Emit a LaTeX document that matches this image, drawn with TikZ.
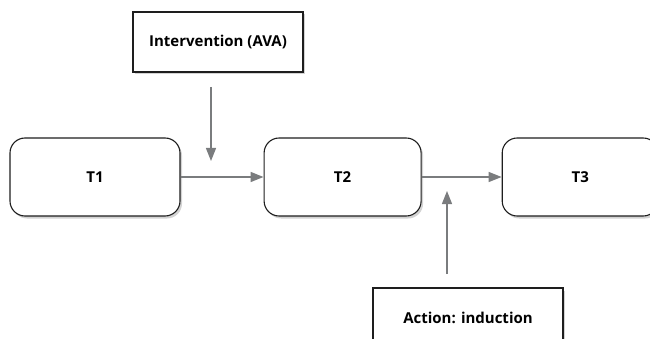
\documentclass[tikz,border=0pt]{standalone}
\usepackage{fontspec}
\setmainfont{Open Sans}
\usepackage{tikz}
\usetikzlibrary{positioning,shadows,arrows.meta}

\definecolor{arrgray}{HTML}{7A7C7E}
\definecolor{boxline}{HTML}{1E1E1E}

\tikzset{
  phase/.style={draw=boxline, line width=1.1pt, fill=white, rounded corners=15pt,
    minimum height=78pt, font=\bfseries\fontsize{15}{17}\selectfont,
    drop shadow={opacity=0.35, shadow xshift=2pt, shadow yshift=-2.5pt}},
  factor/.style={draw=boxline, line width=1.1pt, fill=white,
    minimum height=60pt, font=\bfseries\fontsize{15}{17}\selectfont,
    drop shadow={opacity=0.35, shadow xshift=2pt, shadow yshift=-2.5pt}},
  arr/.style={draw=arrgray, line width=1.3pt, -{Triangle[length=13pt,width=10pt]}}
}

\begin{document}
\begin{tikzpicture}[x=1pt, y=-1pt]
        \useasboundingbox (0,0) rectangle (650,339);
        \clip (0,0) rectangle (650,339);
        \node[phase, minimum width=170pt] (T1) at (95,177) {T1};
        \node[phase, minimum width=157pt] (T2) [right=83pt of T1] {T2};
        \node[phase, minimum width=156pt] (T3) [right=80pt of T2] {T3};
        \node[factor, minimum width=170pt] (ava) at (218,42) {Intervention (AVA)};
        \node[factor, minimum width=190pt] (ind) at (468,318) {Action: induction};
        \coordinate (avaFrom) at (211,87);
        \coordinate (avaTo) at (211,161);
        \coordinate (indFrom) at (447,274);
        \coordinate (indTo) at (447,191);
        \draw[arr] (T1.east) -- (T2.west);
        \draw[arr] (T2.east) -- (T3.west);
        \draw[arr] (avaFrom) -- (avaTo);
        \draw[arr] (indFrom) -- (indTo);
  \end{tikzpicture}
\end{document}
